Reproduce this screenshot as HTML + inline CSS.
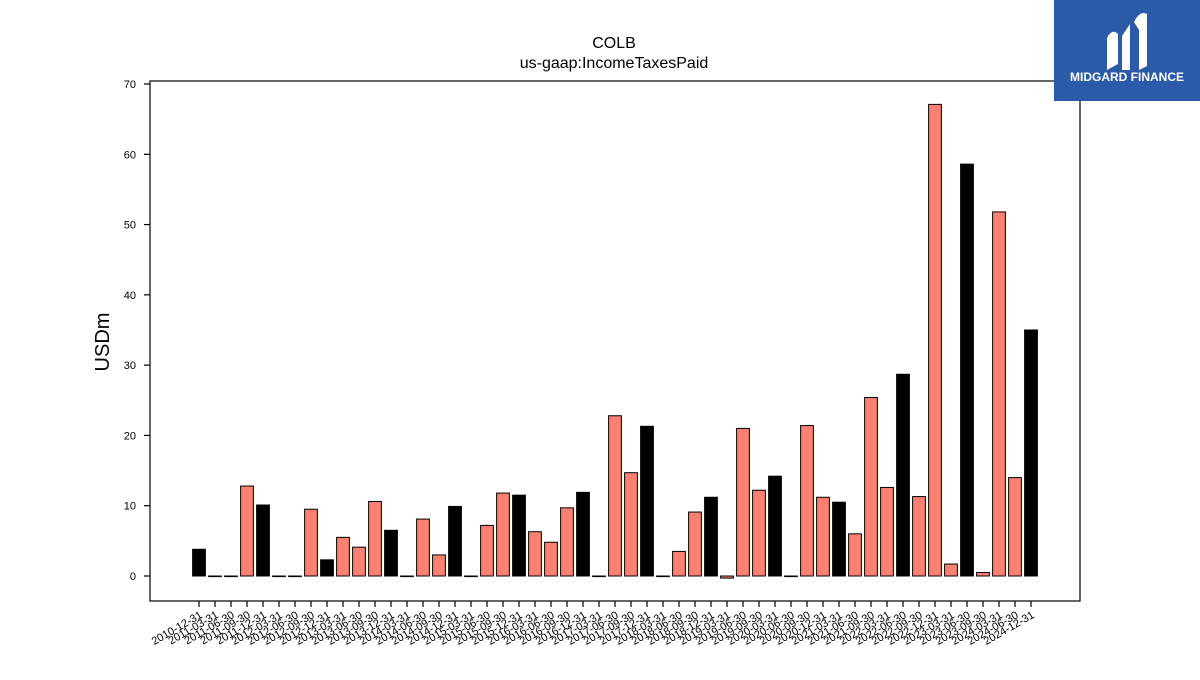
<!DOCTYPE html>
<html><head><meta charset="utf-8"><style>
body{margin:0;background:#fff;}
svg{font-family:"Liberation Sans","DejaVu Sans",sans-serif;}
</style></head><body>
<svg id="chart" width="1200" height="675" viewBox="0 0 1200 675" xmlns="http://www.w3.org/2000/svg">
<rect width="1200" height="675" fill="#fff"/>
<text x="614" y="48" font-size="16" text-anchor="middle">COLB</text>
<text x="614" y="68" font-size="16" text-anchor="middle">us-gaap:IncomeTaxesPaid</text>
<text transform="translate(109,342) rotate(-90)" font-size="20" text-anchor="middle">USDm</text>
<g id="bars"></g>
<g id="yaxis"></g>
<g id="xaxis"></g>
<rect x="150" y="81" width="930" height="520" fill="none" stroke="#000" stroke-width="1.2"/>
<g>
<rect x="1054" y="0" width="146" height="101" fill="#2b5aa9"/>
<path d="M1107 70 L1107 38 Q1112 28 1118 34 L1118 64 Z M1122 36 L1130 24 L1130 70 L1122 70 Z M1134 22 Q1140 10 1147 14 L1147 66 L1139 70 L1139 30 Z" fill="#fff"/>
<text x="1127" y="81" font-size="12" font-weight="bold" fill="#fff" text-anchor="middle">MIDGARD FINANCE</text>
</g>
</svg>
<script>
const labels=["2010-12-31","2011-03-31","2011-06-30","2011-09-30","2011-12-31","2012-03-31","2012-06-30","2012-09-30","2012-12-31","2013-03-31","2013-06-30","2013-09-30","2013-12-31","2014-03-31","2014-06-30","2014-09-30","2014-12-31","2015-03-31","2015-06-30","2015-09-30","2015-12-31","2016-03-31","2016-06-30","2016-09-30","2016-12-31","2017-03-31","2017-06-30","2017-09-30","2017-12-31","2018-03-31","2018-06-30","2018-09-30","2018-12-31","2019-03-31","2019-06-30","2019-09-30","2020-03-31","2020-06-30","2020-09-30","2020-12-31","2021-03-31","2021-06-30","2021-09-30","2022-03-31","2022-06-30","2022-09-30","2022-12-31","2023-03-31","2023-06-30","2023-09-30","2024-03-31","2024-06-30","2024-12-31"];
const values=[3.8,0,0,12.8,10.1,0,0,9.5,2.3,5.5,4.1,10.6,6.5,0,8.1,3.0,9.9,0,7.2,11.8,11.5,6.3,4.8,9.7,11.9,0,22.8,14.7,21.3,0,3.5,9.1,11.2,-0.3,21.0,12.2,14.2,0,21.4,11.2,10.5,6.0,25.4,12.6,28.7,11.3,67.1,1.7,58.6,0.5,51.8,14.0,35.0];
const annual=[1,0,0,0,1,0,0,0,1,0,0,0,1,0,0,0,1,0,0,0,1,0,0,0,1,0,0,0,1,0,0,0,1,0,0,0,1,0,0,0,1,0,0,0,1,0,0,0,1,0,0,0,1];
const yTicks=[0,10,20,30,40,50,60,70];
const NS="http://www.w3.org/2000/svg";
const x=i=>199+16*i;
const y=v=>576-v*(492/70);
function mk(t,a,p){const e=document.createElementNS(NS,t);for(const k in a)e.setAttribute(k,a[k]);p.appendChild(e);return e;}
const gb=document.getElementById('bars'),gx=document.getElementById('xaxis'),gy=document.getElementById('yaxis');
values.forEach((v,i)=>{
  const r=mk('rect',{x:x(i)-6.4,y:Math.min(y(v),y(0)),width:12.8,height:Math.max(Math.abs(y(v)-y(0)),0.6),fill:annual[i]?'#000':'#fa8072',stroke:'#000','stroke-width':1},gb);
  
  
  const t=mk('line',{x1:x(i),x2:x(i),y1:601,y2:607,stroke:'#000','stroke-width':1.2},gx);
  
  
  const l=mk('text',{x:0,y:0,'font-size':11,'text-anchor':'end',transform:`translate(${x(i)+4},${617}) rotate(-30)`},gx);
  l.textContent=labels[i];
  
  
});
yTicks.forEach(v=>{
  const t=mk('line',{x1:144,x2:150,y1:y(v),y2:y(v),stroke:'#000','stroke-width':1.2},gy);
  
  
  const l=mk('text',{x:136,y:y(v)+4,'font-size':11,'text-anchor':'end'},gy);
  l.textContent=v;
  
  
});
</script>
</body></html>
